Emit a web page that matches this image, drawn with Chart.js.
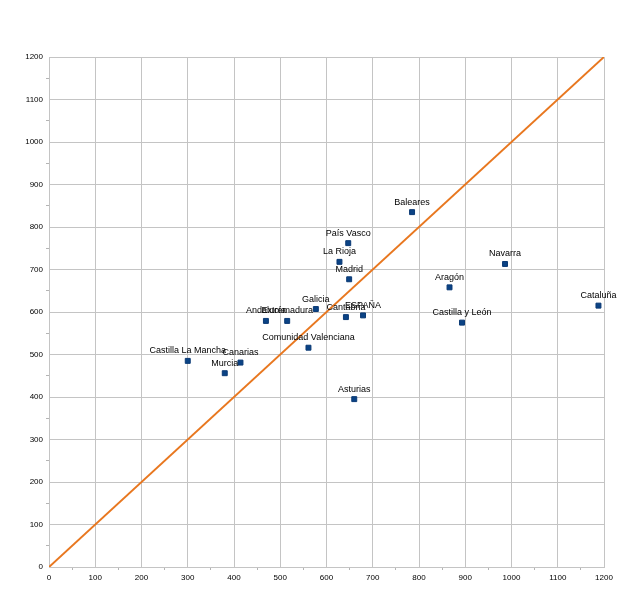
<!DOCTYPE html>
<html>
<head>
<meta charset="utf-8">
<script src="https://cdn.jsdelivr.net/npm/chart.js@4/dist/chart.umd.min.js"></script>
<style>
  html, body { margin: 0; padding: 0; background: #fff; }
  #wrap { width: 640px; height: 604px; }
</style>
</head>
<body>
<div id="wrap"><canvas id="chart_regiones"></canvas></div>
<script>
// regions and their (x, y) values
const regions = [
    "Castilla La Mancha", "Canarias", "Murcia", "Andalucía", "Extremadura",
    "Galicia", "Cantabria", "ESPAÑA", "Comunidad Valenciana", "País Vasco",
    "La Rioja", "Madrid", "Asturias", "Castilla y León", "Aragón",
    "Navarra", "Cataluña", "Baleares",
];
const xValues = [300, 414, 380, 469, 515, 577, 642, 679, 561, 647, 628, 649, 660, 893, 866, 986, 1188, 785];
const yValues = [485, 481, 456, 579, 579, 607, 588, 592, 516, 762, 718, 677, 395, 575, 658, 713, 615, 835];
const lineX = [0, 1200];
const lineY = [0, 1200];

// draws the region name above each square
const pointLabels = {
    id: "pointLabels",
    afterDatasetsDraw(chart) {
        const c = chart.ctx;
        const meta = chart.getDatasetMeta(1);
        c.save();
        c.font = "9px 'Liberation Sans', Arial, sans-serif";
        c.fillStyle = "#000";
        c.textAlign = "center";
        c.textBaseline = "middle";
        meta.data.forEach((el, i) => {
            c.fillText(regions[i], el.x, el.y - 10);
        });
        c.restore();
    },
};

const axisGrid = {
    color: (ctx) => (ctx.tick && ctx.tick.value % 100 === 0 ? "#c4c4c4" : "rgba(0,0,0,0)"),
    tickColor: (ctx) => (ctx.tick && ctx.tick.value % 100 !== 0 ? "#b4b4b4" : "rgba(0,0,0,0)"),
    tickLength: 3,
    lineWidth: 1,
};
const tickFont = { family: "'Liberation Sans', Arial, sans-serif", size: 8 };

const ctx = document.getElementById("chart_regiones").getContext("2d");
const chart_regiones = new Chart(ctx, {
    type: "scatter",
    data: {
        datasets: [
            {
                type: "line",
                data: lineX.map((x, i) => ({ x: x, y: lineY[i] })),
                borderColor: "#e8771f", // diagonal
                borderWidth: 2,
                pointRadius: 0,
                fill: false,
                order: 2,
            },
            {
                data: xValues.map((x, i) => ({ x: x, y: yValues[i] })),
                pointStyle: "rect",
                pointRadius: 3.5,
                backgroundColor: "#0b4385",
                borderColor: "#0b3a75",
                borderWidth: 1,
                order: 1,
            },
        ],
    },
    options: {
        responsive: true,
        maintainAspectRatio: false,
        animation: false,
        layout: { padding: { top: 57, right: 36, left: 0, bottom: 0 } },
        plugins: {
            legend: { display: false },
            tooltip: { enabled: false },
        },
        scales: {
            x: {
                type: "linear",
                min: 0,
                max: 1200,
                ticks: {
                    stepSize: 50,
                    autoSkip: false,
                    maxRotation: 0,
                    padding: 3,
                    color: "#000",
                    font: tickFont,
                    callback: (v) => (v % 100 === 0 ? v : ""),
                },
                grid: axisGrid,
                border: { color: "#c4c4c4" },
                afterFit: (s) => { s.height = 37; },
            },
            y: {
                type: "linear",
                min: 0,
                max: 1200,
                ticks: {
                    stepSize: 50,
                    autoSkip: false,
                    padding: 3,
                    color: "#000",
                    font: tickFont,
                    callback: (v) => (v % 100 === 0 ? v : ""),
                },
                grid: axisGrid,
                border: { color: "#c4c4c4" },
                afterFit: (s) => { s.width = 49; },
            },
        },
    },
    plugins: [pointLabels],
});
</script>
</body>
</html>
